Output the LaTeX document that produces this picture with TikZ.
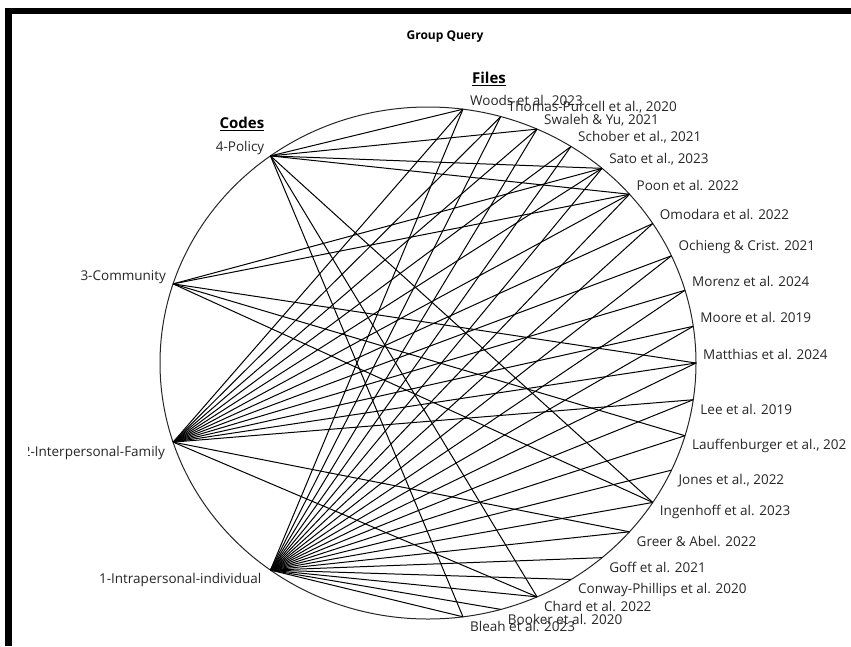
\documentclass[tikz,border=0pt]{standalone}
\usepackage{fontspec}
\setmainfont{Open Sans}
\usetikzlibrary{calc}
\begin{document}
\begin{tikzpicture}[x=1pt,y=-1pt,
  lbl/.style={font=\fontsize{13.5}{16}\selectfont, text=black!85, inner sep=0pt},
  hdr/.style={font=\bfseries\fontsize{15}{17}\selectfont, inner sep=0pt},
  link/.style={draw=black, line width=1pt},
  ring/.style={draw=black!85, line width=1pt}]
\useasboundingbox (0,0) rectangle (851,646);
\fill[black] (5,8) rectangle (12,646);
\fill[black] (5,8) rectangle (851,14);
\node[font=\bfseries\fontsize{12}{14}\selectfont] (title) at (445,37) {Group Query};
\begin{scope}
\clip (28,15) rectangle (848,646);
\draw[ring] (428,363) ellipse [x radius=268, y radius=256];
% codes
\foreach \n/\t in {c4/126,c3/162,c2/198,c1/234}
  \coordinate (\n) at ({428+268*cos(\t)},{363-256*sin(\t)});
\node[lbl,anchor=east] (l4) at ($(c4)+(-6,-8)$) {4-Policy};
\node[lbl,anchor=east] (l3) at ($(c3)+(-7,-7)$) {3-Community};
\node[lbl,anchor=east] (l2) at ($(c2)+(-8,11)$) {2-Interpersonal-Family};
\node[lbl,anchor=east] (l1) at ($(c1)+(-9,10)$) {1-Intrapersonal-individual};
\node[hdr,anchor=east] (codes) at ($(c4)+(-6,-32)$) {\underline{Codes}};
% files
\foreach \i/\txt in {0/Woods et al. 2023,1/Thomas-Purcell et al.{,} 2020,2/Swaleh \& Yu{,} 2021,3/Schober et al.{,} 2021,4/Sato et al.{,} 2023,5/Poon et al. 2022,6/Omodara et al. 2022,7/Ochieng \& Crist. 2021,8/Morenz et al. 2024,9/Moore et al. 2019,10/Matthias et al. 2024,11/Lee et al. 2019,12/Lauffenburger et al.{,} 202,13/Jones et al.{,} 2022,14/Ingenhoff et al. 2023,15/Greer \& Abel. 2022,16/Goff et al. 2021,17/Conway-Phillips et al. 2020,18/Chard et al. 2022,19/Booker et al. 2020,20/Bleah et al. 2023}{
  \pgfmathsetmacro{\t}{82.5-8.25*\i}
  \coordinate (f\i) at ({428+268*cos(\t)},{363-256*sin(\t)});
  \pgfmathsetmacro{\dy}{\t>=0 ? -9 : 10}
  \node[lbl,anchor=west] (t\i) at ($(f\i)+(7,\dy)$) {\txt};
}
\node[hdr] (files) at (489,79) {\underline{Files}};
% links
\foreach \f in {0,...,20} \draw[link] (c1) -- (f\f);
\foreach \f in {0,1,2,3,4,5,6,7,8,9,10,11,15,18} \draw[link] (c2) -- (f\f);
\foreach \f in {4,5,10,12,14} \draw[link] (c3) -- (f\f);
\foreach \f in {0,2,4,5,14,18,20} \draw[link] (c4) -- (f\f);
\end{scope}
\end{tikzpicture}
\end{document}
